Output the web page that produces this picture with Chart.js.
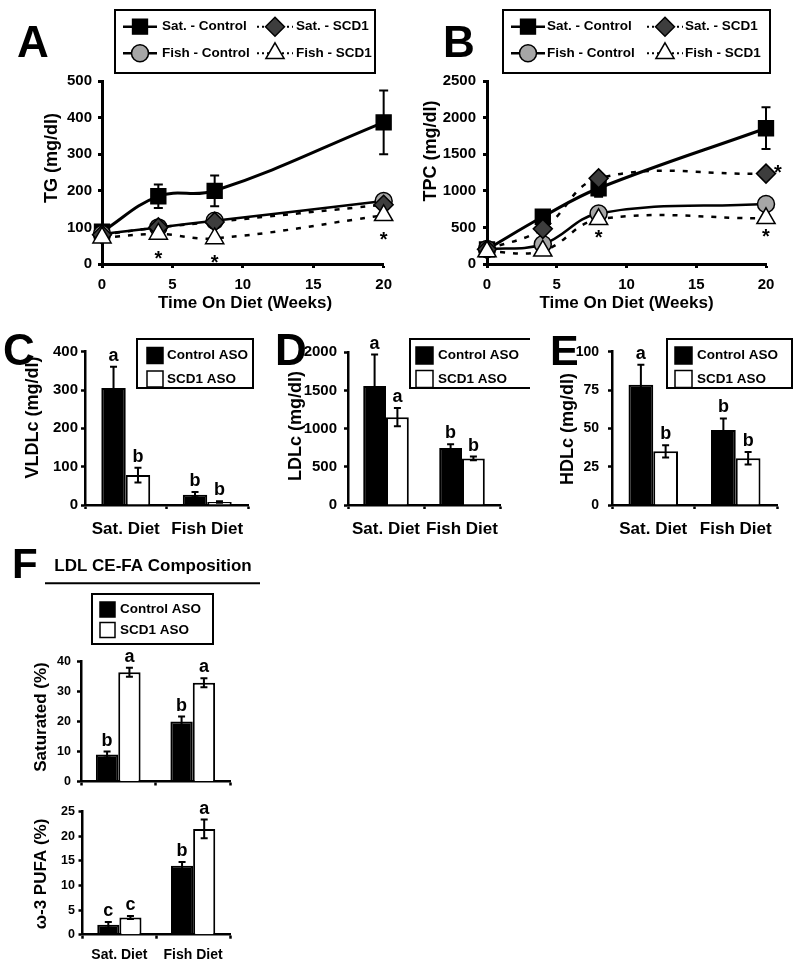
<!DOCTYPE html>
<html><head><meta charset="utf-8"><title>Lipid panels</title>
<script src="https://cdn.jsdelivr.net/npm/chart.js@4.4.1/dist/chart.umd.min.js"></script>
<style>
html,body{margin:0;padding:0;background:#fff;}
#wrap{position:relative;width:800px;height:979px;overflow:hidden;background:#fff;}
#wrap canvas{position:absolute;}
</style></head><body><div id="wrap"></div>
<script>
/* ================= DATA ================= */
const weeks = [0, 4, 8, 20];
const weekTicks = [0, 5, 10, 15, 20];

const tgTicks = [0, 100, 200, 300, 400, 500];
const tgSatControl = [88, 185, 200, 387];
const tgSatControlErr = [6, 32, 42, 87];
const tgSatSCD1 = [80, 100, 115, 162];
const tgFishControl = [82, 100, 118, 172];
const tgFishSCD1 = [72, 82, 70, 133];
const tgStarWeeksFishSCD1 = [4, 8, 20];
const tgStarWeeksSatSCD1 = [];

const tpcTicks = [0, 500, 1000, 1500, 2000, 2500];
const tpcSatControl = [200, 645, 1035, 1855];
const tpcSatControlErr = [30, 60, 115, 285];
const tpcSatSCD1 = [200, 480, 1170, 1235];
const tpcFishControl = [205, 270, 690, 820];
const tpcFishSCD1 = [170, 180, 610, 625];
const tpcStarWeeksFishSCD1 = [8, 20];
const tpcStarWeeksSatSCD1 = [20];

const diets = ['Sat. Diet', 'Fish Diet'];

const vldlTicks = [0, 100, 200, 300, 400];
const vldlControl = [305, 27];
const vldlControlErr = [56, 7];
const vldlSCD1 = [78, 8];
const vldlSCD1Err = [19, 2];
const vldlControlSig = ['a', 'b'];
const vldlSCD1Sig = ['b', 'b'];

const ldlTicks = [0, 500, 1000, 1500, 2000];
const ldlControl = [1560, 745];
const ldlControlErr = [410, 50];
const ldlSCD1 = [1150, 610];
const ldlSCD1Err = [120, 25];
const ldlControlSig = ['a', 'b'];
const ldlSCD1Sig = ['a', 'b'];

const hdlTicks = [0, 25, 50, 75, 100];
const hdlControl = [78.5, 49];
const hdlControlErr = [13, 7.5];
const hdlSCD1 = [35, 30.5];
const hdlSCD1Err = [4, 4];
const hdlControlSig = ['a', 'b'];
const hdlSCD1Sig = ['b', 'b'];

const satTicks = [0, 10, 20, 30, 40];
const satControl = [9, 20];
const satControlErr = [1, 1.7];
const satSCD1 = [36.5, 33];
const satSCD1Err = [1.5, 1.5];
const satControlSig = ['b', 'b'];
const satSCD1Sig = ['a', 'a'];

const n3Ticks = [0, 5, 10, 15, 20, 25];
const n3Control = [2, 14];
const n3ControlErr = [0.6, 0.8];
const n3SCD1 = [3.5, 21.5];
const n3SCD1Err = [0.3, 1.9];
const n3ControlSig = ['c', 'b'];
const n3SCD1Sig = ['c', 'a'];

/* ================= STYLE / HELPERS ================= */
const FONT = '"Liberation Sans", Arial, Helvetica, sans-serif';
Chart.defaults.font.family = FONT;
Chart.defaults.font.weight = 'bold';
Chart.defaults.color = '#000';
Chart.defaults.animation = false;
Chart.defaults.plugins.legend.display = false;
Chart.defaults.plugins.tooltip.enabled = false;

const LINE_STYLES = [
  { label: 'Sat. - Control', shape: 'rect', r: 10.5, fill: '#000', width: 3, dash: [], order: 4 },
  { label: 'Sat. - SCD1', shape: 'rectRot', r: 9.5, fill: '#3d3d3d', width: 2.5, dash: [5, 8], order: 2 },
  { label: 'Fish - Control', shape: 'circle', r: 8.5, fill: '#a6a6a6', width: 2.5, dash: [], order: 3 },
  { label: 'Fish - SCD1', shape: 'triangle', r: 10.5, fill: '#fff', width: 2.5, dash: [5, 8], order: 1 }
];

const Y_W = 50;
const wrap = document.getElementById('wrap');
function makeCanvas(box) {
  const c = document.createElement('canvas');
  c.width = box.w; c.height = box.h;
  c.style.left = box.x + 'px'; c.style.top = box.y + 'px';
  c.style.width = box.w + 'px'; c.style.height = box.h + 'px';
  wrap.appendChild(c);
  return c;
}
function layoutPad(box, area, yW, xH) {
  return {
    left: area.l - box.x - yW,
    top: area.t - box.y,
    right: box.x + box.w - area.r,
    bottom: box.y + box.h - area.b - xH
  };
}
function txt(c, s, x, y, size, o = {}) {
  c.save();
  c.font = 'bold ' + size + 'px ' + FONT;
  c.fillStyle = '#000';
  c.textAlign = o.align || 'center';
  c.textBaseline = o.baseline || 'middle';
  c.translate(x, y);
  if (o.rot) c.rotate(o.rot);
  c.fillText(s, 0, 0);
  c.restore();
}
function star(c, x, cy) {
  txt(c, '*', x, cy + 11, 20, { baseline: 'alphabetic' });
}
function drawMarker(c, shape, x, y, r, fill) {
  c.save(); c.beginPath();
  if (shape === 'rect') { const s = r * Math.SQRT1_2; c.rect(x - s, y - s, 2 * s, 2 * s); }
  else if (shape === 'rectRot') { c.moveTo(x, y - r); c.lineTo(x + r, y); c.lineTo(x, y + r); c.lineTo(x - r, y); c.closePath(); }
  else if (shape === 'circle') { c.arc(x, y, r, 0, Math.PI * 2); }
  else { const a = 2 * Math.PI / 3; c.moveTo(x, y - r); c.lineTo(x + r * Math.sin(a), y - r * Math.cos(a)); c.lineTo(x + r * Math.sin(2 * a), y - r * Math.cos(2 * a)); c.closePath(); }
  c.setLineDash([]);
  c.fillStyle = fill; c.fill(); c.lineWidth = 1.5; c.strokeStyle = '#000'; c.stroke();
  c.restore();
}
function decoPlugin(box, fn) {
  return { id: 'deco', afterDraw(chart) { const c = chart.ctx; c.save(); c.translate(-box.x, -box.y); fn(c, chart); c.restore(); } };
}
function yAxis(ticks, yW, bw, pad, size) {
  return {
    type: 'linear', min: ticks[0], max: ticks[ticks.length - 1],
    afterBuildTicks: s => { s.ticks = ticks.map(v => ({ value: v })); },
    ticks: { callback: v => String(v), font: { size: size, weight: 'bold' }, color: '#000', padding: pad },
    grid: { display: true, drawOnChartArea: false, drawTicks: true, tickLength: 4, tickWidth: bw, tickColor: '#000' },
    border: { display: true, color: '#000', width: bw },
    afterFit: s => { s.width = yW; }
  };
}
function xLinAxis(ticks, xH, bw, pad, size) {
  return {
    type: 'linear', min: ticks[0], max: ticks[ticks.length - 1],
    afterBuildTicks: s => { s.ticks = ticks.map(v => ({ value: v })); },
    ticks: { callback: v => String(v), font: { size: size, weight: 'bold' }, color: '#000', padding: pad, maxRotation: 0 },
    grid: { display: true, drawOnChartArea: false, drawTicks: true, tickLength: 4, tickWidth: bw, tickColor: '#000' },
    border: { display: true, color: '#000', width: bw },
    afterFit: s => { s.height = xH; }
  };
}
function xCatAxis(xH, bw, pad, size, show) {
  return {
    type: 'category', offset: true,
    ticks: { display: show, font: { size: size, weight: 'bold' }, color: '#000', padding: pad, maxRotation: 0, autoSkip: false },
    grid: { display: true, offset: true, drawOnChartArea: false, drawTicks: true, tickLength: 4, tickWidth: bw, tickColor: '#000' },
    border: { display: true, color: '#000', width: bw },
    afterFit: s => { s.height = xH; }
  };
}

/* legend for line panels */
function lineLegend(c, chart, L) {
  c.save();
  c.lineWidth = 2; c.strokeStyle = '#000'; c.setLineDash([]);
  c.strokeRect(L.x, L.y, L.w, L.h);
  chart.data.datasets.forEach((ds, i) => {
    const st = LINE_STYLES[i];
    const col = L.cols[i % 2];
    const y = L.rows[Math.floor(i / 2)];
    c.save();
    c.beginPath();
    c.lineWidth = st.dash.length ? 2 : 2.5;
    c.setLineDash(st.dash.length ? [2, 3] : []);
    c.moveTo(col.l0, y); c.lineTo(col.l1, y); c.stroke();
    c.restore();
    drawMarker(c, st.shape, col.m, y, st.r, st.fill);
    txt(c, ds.label, col.t, y, 13.5, { align: 'left' });
  });
  c.restore();
}
/* legend for bar panels */
function barLegend(c, chart, L) {
  c.save();
  c.lineWidth = 2; c.strokeStyle = '#000';
  c.strokeRect(L.x, L.y, L.w, L.h);
  chart.data.datasets.forEach((ds, i) => {
    const cy = L.rows[i];
    c.fillStyle = ds.backgroundColor;
    c.fillRect(L.sx, cy - L.s / 2, L.s, L.s);
    c.lineWidth = 1.5;
    c.strokeRect(L.sx, cy - L.s / 2, L.s, L.s);
    txt(c, ds.label, L.tx, cy, 13.5, { align: 'left' });
  });
  c.restore();
}

/* ================= LINE CHARTS ================= */
function lineChart(box, area, vals, errVals, yTicks, o) {
  const cv = makeCanvas(box);
  const xH = 35;
  const datasets = LINE_STYLES.map((st, i) => ({
    label: st.label,
    data: weeks.map((w, k) => ({ x: w, y: vals[i][k] })),
    borderColor: '#000', borderWidth: st.width, borderDash: st.dash,
    pointStyle: st.shape, pointRadius: st.r, pointHoverRadius: st.r,
    pointBackgroundColor: st.fill, pointBorderColor: '#000', pointBorderWidth: 1.5,
    tension: 0.4, fill: false, clip: false, order: st.order
  }));
  const errPlugin = {
    id: 'errbars',
    beforeDatasetsDraw(chart) {
      const ys = chart.scales.y, meta = chart.getDatasetMeta(0), c = chart.ctx;
      c.save(); c.strokeStyle = '#000'; c.lineWidth = 2; c.setLineDash([]);
      meta.data.forEach((p, k) => {
        const v = vals[0][k], e = errVals[k];
        const t = ys.getPixelForValue(v + e), b = ys.getPixelForValue(v - e);
        c.beginPath();
        c.moveTo(p.x, t); c.lineTo(p.x, b);
        c.moveTo(p.x - 4.5, t); c.lineTo(p.x + 4.5, t);
        c.moveTo(p.x - 4.5, b); c.lineTo(p.x + 4.5, b);
        c.stroke();
      });
      c.restore();
    },
    afterDatasetsDraw(chart) {
      const c = chart.ctx;
      const fishMeta = chart.getDatasetMeta(3), satMeta = chart.getDatasetMeta(1);
      o.starsFish.forEach(w => { const p = fishMeta.data[weeks.indexOf(w)]; star(c, p.x, p.y + o.starOff); });
      o.starsSat.forEach(w => { const p = satMeta.data[weeks.indexOf(w)]; star(c, p.x + 12, p.y - 6); });
    }
  };
  new Chart(cv, {
    type: 'line',
    data: { datasets },
    options: {
      responsive: false, devicePixelRatio: 1,
      layout: { padding: layoutPad(box, area, Y_W, xH) },
      scales: {
        x: xLinAxis(weekTicks, xH, 3, 8, 15),
        y: yAxis(yTicks, Y_W, 3, o.yPad, 15)
      }
    },
    plugins: [errPlugin, decoPlugin(box, (c, chart) => {
      txt(c, o.letter, o.letterPos[0], o.letterPos[1], 44, { align: 'left', baseline: 'alphabetic' });
      lineLegend(c, chart, o.legend);
      txt(c, o.yTitle, o.yTitlePos[0], o.yTitlePos[1], 18, { rot: -Math.PI / 2 });
      txt(c, 'Time On Diet (Weeks)', (area.l + area.r) / 2, 303, 17);
    })]
  });
}

lineChart({ x: 0, y: 0, w: 400, h: 315 }, { l: 102, t: 81, r: 388, b: 264 },
  [tgSatControl, tgSatSCD1, tgFishControl, tgFishSCD1], tgSatControlErr, tgTicks,
  { yPad: 6, starsFish: tgStarWeeksFishSCD1, starsSat: tgStarWeeksSatSCD1, starOff: 20,
    letter: 'A', letterPos: [17, 57], yTitle: 'TG (mg/dl)', yTitlePos: [52.5, 158],
    legend: { x: 115, y: 10, w: 260, h: 63, rows: [26.7, 53.3],
      cols: [{ l0: 123, l1: 157, m: 140, t: 162 }, { l0: 257, l1: 293, m: 275, t: 296 }] } });

lineChart({ x: 400, y: 0, w: 400, h: 315 }, { l: 487, t: 81, r: 766, b: 264 },
  [tpcSatControl, tpcSatSCD1, tpcFishControl, tpcFishSCD1], tpcSatControlErr, tpcTicks,
  { yPad: 7, starsFish: tpcStarWeeksFishSCD1, starsSat: tpcStarWeeksSatSCD1, starOff: 14,
    letter: 'B', letterPos: [443, 57], yTitle: 'TPC (mg/dl)', yTitlePos: [431, 151],
    legend: { x: 503, y: 10, w: 267, h: 63, rows: [26.7, 53.3],
      cols: [{ l0: 511, l1: 545, m: 528, t: 547 }, { l0: 647, l1: 683, m: 665, t: 685 }] } });

/* ================= BAR CHARTS ================= */
function barChart(box, area, ctrl, ctrlErr, scd, scdErr, ctrlSig, scdSig, yTicks, o) {
  const cv = makeCanvas(box);
  const errs = [ctrlErr, scdErr], sigs = [ctrlSig, scdSig];
  const annot = {
    id: 'annot',
    afterDatasetsDraw(chart) {
      const ys = chart.scales.y, c = chart.ctx;
      chart.data.datasets.forEach((ds, i) => {
        const meta = chart.getDatasetMeta(i);
        meta.data.forEach((bar, j) => {
          const v = ds.data[j], e = errs[i][j];
          const t = ys.getPixelForValue(v + e), b = ys.getPixelForValue(v - e);
          c.save(); c.strokeStyle = '#000'; c.lineWidth = 2;
          c.beginPath();
          c.moveTo(bar.x, t); c.lineTo(bar.x, b);
          c.moveTo(bar.x - 3.5, t); c.lineTo(bar.x + 3.5, t);
          c.moveTo(bar.x - 3.5, b); c.lineTo(bar.x + 3.5, b);
          c.stroke(); c.restore();
          txt(c, sigs[i][j], bar.x, t - 6, 18, { baseline: 'alphabetic' });
        });
      });
    }
  };
  new Chart(cv, {
    type: 'bar',
    data: {
      labels: diets,
      datasets: [
        { label: 'Control ASO', data: ctrl, backgroundColor: '#000', borderColor: '#000', borderWidth: 2, categoryPercentage: 0.6, barPercentage: 1 },
        { label: 'SCD1 ASO', data: scd, backgroundColor: '#fff', borderColor: '#000', borderWidth: 2, categoryPercentage: 0.6, barPercentage: 1 }
      ]
    },
    options: {
      responsive: false, devicePixelRatio: 1,
      layout: { padding: layoutPad(box, area, Y_W, o.xH) },
      scales: {
        x: xCatAxis(o.xH, o.bw, o.xPad, o.xSize, o.showX),
        y: yAxis(yTicks, Y_W, o.bw, o.yPad, o.ySize)
      }
    },
    plugins: [annot, decoPlugin(box, (c, chart) => { o.deco(c, chart); })]
  });
}

barChart({ x: 0, y: 315, w: 262, h: 225 }, { l: 85, t: 351.7, r: 248, b: 505 },
  vldlControl, vldlControlErr, vldlSCD1, vldlSCD1Err, vldlControlSig, vldlSCD1Sig, vldlTicks,
  { xH: 34, bw: 2.5, xPad: 10, xSize: 17, showX: true, yPad: 3, ySize: 15,
    deco: (c, chart) => {
      txt(c, 'C', 3, 365, 44, { align: 'left', baseline: 'alphabetic' });
      txt(c, 'VLDLc (mg/dl)', 33, 417.5, 18, { rot: -Math.PI / 2 });
      barLegend(c, chart, { x: 137, y: 339, w: 116, h: 49, sx: 147, s: 16, tx: 167, rows: [355.5, 379] });
    } });

barChart({ x: 262, y: 315, w: 268, h: 225 }, { l: 348, t: 352.3, r: 500, b: 505 },
  ldlControl, ldlControlErr, ldlSCD1, ldlSCD1Err, ldlControlSig, ldlSCD1Sig, ldlTicks,
  { xH: 34, bw: 2.5, xPad: 10, xSize: 17, showX: true, yPad: 7, ySize: 15,
    deco: (c, chart) => {
      txt(c, 'D', 275, 365, 44, { align: 'left', baseline: 'alphabetic' });
      txt(c, 'LDLc (mg/dl)', 296, 426, 18, { rot: -Math.PI / 2 });
      barLegend(c, chart, { x: 410, y: 339, w: 127, h: 49, sx: 416, s: 17, tx: 438, rows: [355.5, 379] });
    } });

barChart({ x: 530, y: 315, w: 270, h: 225 }, { l: 612, t: 351.7, r: 777, b: 505 },
  hdlControl, hdlControlErr, hdlSCD1, hdlSCD1Err, hdlControlSig, hdlSCD1Sig, hdlTicks,
  { xH: 34, bw: 2.5, xPad: 10, xSize: 17, showX: true, yPad: 9, ySize: 14,
    deco: (c, chart) => {
      txt(c, 'E', 550, 365, 43, { align: 'left', baseline: 'alphabetic' });
      txt(c, 'HDLc (mg/dl)', 568, 429, 18, { rot: -Math.PI / 2 });
      barLegend(c, chart, { x: 667, y: 339, w: 125, h: 49, sx: 675, s: 17, tx: 697, rows: [355.5, 379] });
    } });

barChart({ x: 0, y: 540, w: 300, h: 255 }, { l: 81, t: 661.7, r: 230, b: 785 },
  satControl, satControlErr, satSCD1, satSCD1Err, satControlSig, satSCD1Sig, satTicks,
  { xH: 6, bw: 2.5, xPad: 4, xSize: 14, showX: false, yPad: 6, ySize: 12.5,
    deco: (c, chart) => {
      txt(c, 'F', 12, 578, 42, { align: 'left', baseline: 'alphabetic' });
      txt(c, 'LDL CE-FA Composition', 153, 566.7, 17);
      c.save(); c.strokeStyle = '#000'; c.lineWidth = 2; c.beginPath(); c.moveTo(45, 583.3); c.lineTo(260, 583.3); c.stroke(); c.restore();
      barLegend(c, chart, { x: 92, y: 594, w: 121, h: 50, sx: 100, s: 15, tx: 120, rows: [609.5, 630] });
      txt(c, 'Saturated (%)', 41.7, 717, 17, { rot: -Math.PI / 2 });
    } });

barChart({ x: 0, y: 795, w: 300, h: 184 }, { l: 82.5, t: 811.7, r: 230, b: 934.7 },
  n3Control, n3ControlErr, n3SCD1, n3SCD1Err, n3ControlSig, n3SCD1Sig, n3Ticks,
  { xH: 30, bw: 2.5, xPad: 8, xSize: 14, showX: true, yPad: 3.5, ySize: 12.5,
    deco: (c, chart) => {
      txt(c, '\u03C9-3 PUFA (%)', 41.7, 874, 17, { rot: -Math.PI / 2 });
    } });
</script>
</body></html>
